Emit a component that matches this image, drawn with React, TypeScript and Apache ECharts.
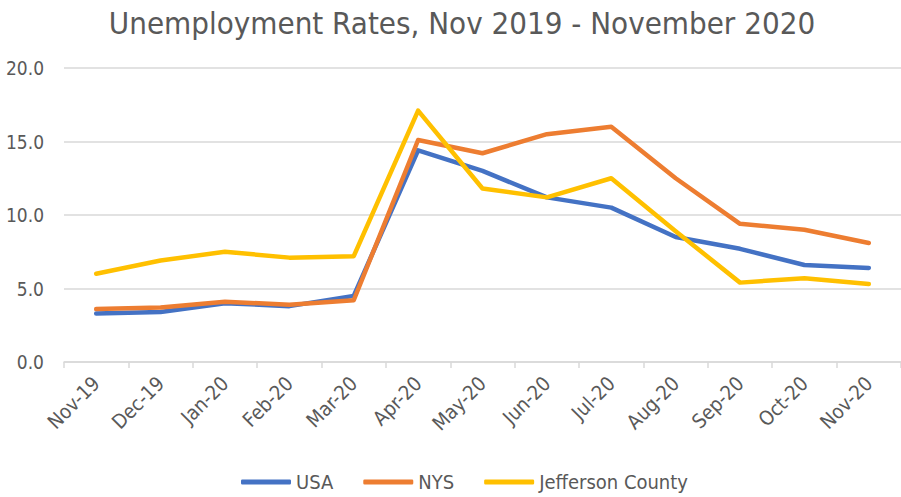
import React, { useEffect, useRef } from "react";
import * as echarts from "echarts";

const categories = ["Nov-19", "Dec-19", "Jan-20", "Feb-20", "Mar-20", "Apr-20", "May-20", "Jun-20", "Jul-20", "Aug-20", "Sep-20", "Oct-20", "Nov-20"];
const usa = [3.3, 3.4, 4.0, 3.8, 4.5, 14.4, 13.0, 11.2, 10.5, 8.5, 7.7, 6.6, 6.4];
const nys = [3.6, 3.7, 4.1, 3.9, 4.2, 15.1, 14.2, 15.5, 16.0, 12.5, 9.4, 9.0, 8.1];
const jefferson = [6.0, 6.9, 7.5, 7.1, 7.2, 17.1, 11.8, 11.2, 12.5, 8.9, 5.4, 5.7, 5.3];
const yTicks = { min: 0, max: 20, interval: 5 };

const FONT = "'Liberation Sans Narrow', 'DejaVu Sans Condensed', 'Liberation Sans', sans-serif";
const TEXT = "#595959";
const GRID = "#D9D9D9";

export default function App() {
  const ref = useRef<HTMLDivElement>(null);
  useEffect(() => {
    if (!ref.current) return;
    const chart = echarts.init(ref.current, undefined, { renderer: "svg" });
    const mk = (name: string, data: number[], color: string) => ({
      name,
      type: "line",
      data,
      symbol: "none",
      color,
      lineStyle: { width: 4.5, color, cap: "round", join: "round" },
    });
    chart.setOption({
      animation: false,
      textStyle: { fontFamily: FONT },
      title: {
        text: "Unemployment Rates, Nov 2019 - November 2020",
        left: 457,
        textAlign: "center",
        top: 2,
        textStyle: { color: TEXT, fontSize: 31, fontWeight: "normal", fontFamily: FONT },
      },
      grid: { left: 64, top: 68, width: 841, bottom: 135, containLabel: false },
      legend: {
        bottom: 0,
        left: 236,
        itemWidth: 50,
        itemHeight: 5,
        itemGap: 30,
        icon: "roundRect",
        textStyle: { color: TEXT, fontSize: 20, fontFamily: FONT },
        data: ["USA", "NYS", "Jefferson County"],
      },
      xAxis: {
        type: "category",
        data: categories,
        boundaryGap: true,
        axisLine: { lineStyle: { color: GRID, width: 1.5 } },
        axisTick: { show: true, length: 6, lineStyle: { color: GRID, width: 1.5 } },
        axisLabel: { rotate: 45, interval: 0, color: TEXT, fontSize: 20, margin: 18, fontFamily: FONT },
      },
      yAxis: {
        type: "value",
        min: yTicks.min,
        max: yTicks.max,
        interval: yTicks.interval,
        axisLine: { show: false },
        axisTick: { show: false },
        splitLine: { lineStyle: { color: GRID, width: 1.5 } },
        axisLabel: {
          color: TEXT,
          fontSize: 19,
          margin: 20,
          fontFamily: FONT,
          formatter: (v: number) => v.toFixed(1),
        },
      },
      series: [
        mk("USA", usa, "#4472C4"),
        mk("NYS", nys, "#ED7D31"),
        mk("Jefferson County", jefferson, "#FFC000"),
      ],
    });
    return () => chart.dispose();
  }, []);
  return (
    <div
      ref={ref}
      style={{ position: "fixed", left: 0, top: 0, width: 901, height: 497, background: "#fff" }}
    />
  );
}
